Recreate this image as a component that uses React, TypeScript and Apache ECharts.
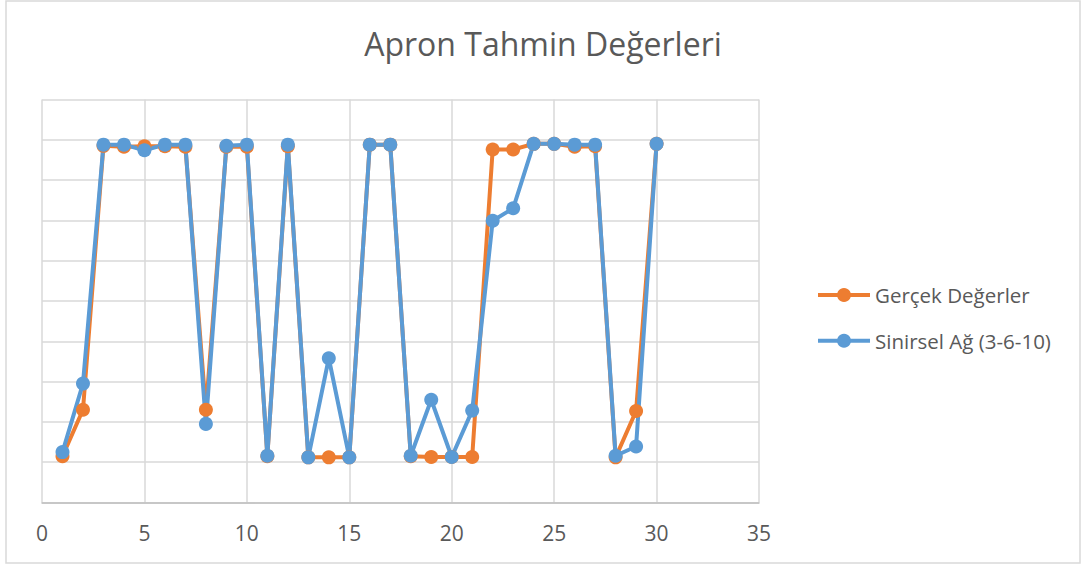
import React, { useEffect, useRef } from "react";
import * as echarts from "echarts";

const xValues = [1, 2, 3, 4, 5, 6, 7, 8, 9, 10, 11, 12, 13, 14, 15, 16, 17, 18, 19, 20, 21, 22, 23, 24, 25, 26, 27, 28, 29, 30];
const gercekDegerler = [1.15, 2.3, 8.85, 8.83, 8.84, 8.84, 8.83, 2.3, 8.83, 8.83, 1.15, 8.84, 1.12, 1.12, 1.12, 8.88, 8.88, 1.15, 1.13, 1.13, 1.13, 8.76, 8.76, 8.9, 8.9, 8.83, 8.84, 1.12, 2.27, 8.9];
const sinirselAg = [1.25, 2.95, 8.88, 8.88, 8.74, 8.88, 8.88, 1.95, 8.85, 8.88, 1.16, 8.88, 1.12, 3.58, 1.12, 8.88, 8.88, 1.16, 2.55, 1.13, 2.28, 6.99, 7.3, 8.9, 8.9, 8.88, 8.88, 1.16, 1.39, 8.9];
const seriesNames = ["Gerçek Değerler", "Sinirsel Ağ (3-6-10)"];
const seriesColors = ["#ED7D31", "#5B9BD5"];
const titleText = "Apron Tahmin Değerleri";

const FONT = "'Open Sans', 'Noto Sans', sans-serif";

export default function App() {
  const ref = useRef<HTMLDivElement>(null);
  useEffect(() => {
    if (!ref.current) return;
    const chart = echarts.init(ref.current, undefined, { renderer: "svg" });
    const toPairs = (ys: number[]) => xValues.map((x, i) => [x, ys[i]]);
    chart.setOption({
      animation: false,
      backgroundColor: "#ffffff",
      title: {
        text: titleText,
        left: "center",
        top: 22,
        textStyle: { fontFamily: FONT, fontSize: 32, fontWeight: "normal", color: "#595959" },
      },
      legend: {
        orient: "vertical",
        left: 811,
        top: 279,
        itemWidth: 52,
        itemHeight: 17.5,
        itemGap: 23.7,
        lineStyle: { width: 4 },
        textStyle: { fontFamily: FONT, fontSize: 20.5, lineHeight: 22, color: "#595959" },
        data: seriesNames,
      },
      grid: { left: 42, right: 327, top: 99.5, bottom: 61.5, containLabel: false },
      xAxis: {
        type: "value",
        min: 0,
        max: 35,
        interval: 5,
        axisLine: { show: true, lineStyle: { color: "#BFBFBF", width: 1.5 } },
        axisTick: { show: false },
        axisLabel: { fontFamily: FONT, fontSize: 21, color: "#595959", margin: 20 },
        splitLine: { show: true, lineStyle: { color: "#D9D9D9", width: 1.5 } },
      },
      yAxis: {
        type: "value",
        min: 0,
        max: 10,
        interval: 1,
        axisLine: { show: false },
        axisTick: { show: false },
        axisLabel: { show: false },
        splitLine: { show: true, lineStyle: { color: "#D9D9D9", width: 1.5 } },
      },
      graphic: [
        {
          type: "rect",
          shape: { x: 6, y: 1, width: 1074, height: 562 },
          style: { fill: "none", stroke: "#D9D9D9", lineWidth: 1.5 },
          silent: true,
          z: -1,
        },
      ],
      series: [
        {
          name: seriesNames[0],
          type: "line",
          data: toPairs(gercekDegerler),
          symbol: "circle",
          symbolSize: 14,
          showAllSymbol: true,
          itemStyle: { color: seriesColors[0] },
          lineStyle: { color: seriesColors[0], width: 4 },
        },
        {
          name: seriesNames[1],
          type: "line",
          data: toPairs(sinirselAg),
          symbol: "circle",
          symbolSize: 14,
          showAllSymbol: true,
          itemStyle: { color: seriesColors[1] },
          lineStyle: { color: seriesColors[1], width: 4 },
        },
      ],
    });
    return () => chart.dispose();
  }, []);
  return (
    <div
      ref={ref}
      style={{ position: "fixed", left: 0, top: 0, width: 1086, height: 564 }}
    />
  );
}
